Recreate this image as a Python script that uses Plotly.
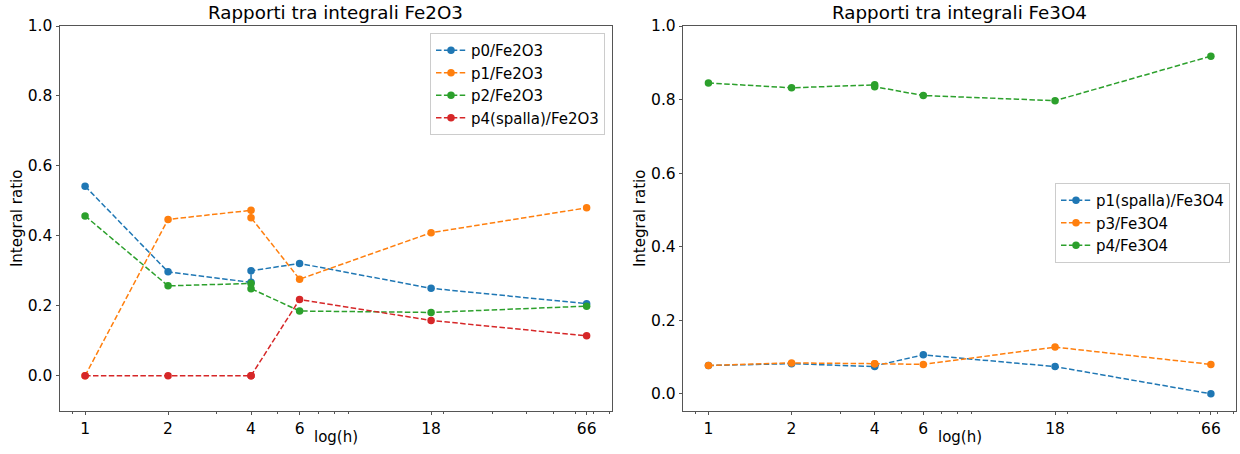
import plotly.graph_objects as go

hours = [1, 2, 4, 4, 6, 18, 66]
tick_vals = [1, 2, 4, 6, 18, 66]
tick_text = ["1", "2", "4", "6", "18", "66"]
minor_vals = [0.9, 3, 5, 7, 8, 9, 20, 30, 40, 50, 60, 70, 80]

# Fe2O3 panel
p0_fe2o3 = [0.542, 0.297, 0.267, 0.300, 0.321, 0.250, 0.206]
p1_fe2o3 = [0.000, 0.447, 0.473, 0.452, 0.276, 0.409, 0.480]
p2_fe2o3 = [0.457, 0.257, 0.264, 0.249, 0.185, 0.181, 0.199]
p4_fe2o3 = [0.000, 0.000, 0.000, 0.000, 0.218, 0.158, 0.114]

# Fe3O4 panel
p1_fe3o4 = [0.077, 0.082, 0.074, 0.076, 0.106, 0.074, 0.000]
p3_fe3o4 = [0.077, 0.084, 0.082, 0.082, 0.080, 0.127, 0.080]
p4_fe3o4 = [0.845, 0.832, 0.840, 0.835, 0.811, 0.797, 0.918]

colors = ["#1f77b4", "#ff7f0e", "#2ca02c", "#d62728"]
FONT = "DejaVu Sans"

fig = go.Figure()

left = [("p0/Fe2O3", p0_fe2o3), ("p1/Fe2O3", p1_fe2o3),
        ("p2/Fe2O3", p2_fe2o3), ("p4(spalla)/Fe2O3", p4_fe2o3)]
right = [("p1(spalla)/Fe3O4", p1_fe3o4), ("p3/Fe3O4", p3_fe3o4),
         ("p4/Fe3O4", p4_fe3o4)]

for i, (name, vals) in enumerate(left):
    fig.add_trace(go.Scatter(
        x=hours, y=vals, name=name, mode="lines+markers",
        line=dict(color=colors[i], width=1.5, dash="5.5px,2.4px"),
        marker=dict(color=colors[i], size=7.5),
        xaxis="x", yaxis="y", legend="legend"))

for i, (name, vals) in enumerate(right):
    fig.add_trace(go.Scatter(
        x=hours, y=vals, name=name, mode="lines+markers",
        line=dict(color=colors[i], width=1.5, dash="5.5px,2.4px"),
        marker=dict(color=colors[i], size=7.5),
        xaxis="x2", yaxis="y2", legend="legend2"))

W, H = 1240, 454
axis_color = "#555555"
XL = (60, 611.7)
XR = (683.3, 1236)

def xaxis(domain, anchor):
    return dict(
        domain=domain, anchor=anchor, type="log", automargin=False,
        range=[-0.091, 1.9105],
        tickmode="array", tickvals=tick_vals, ticktext=tick_text,
        ticks="outside", ticklen=3.5, tickwidth=1, tickcolor=axis_color,
        showline=True, linecolor=axis_color, linewidth=1, mirror=True,
        showgrid=False, zeroline=False,
        tickfont=dict(family=FONT, size=15.5, color="black"),
        minor=dict(tickmode="array", tickvals=minor_vals, ticks="outside",
                   ticklen=2, tickwidth=1, tickcolor=axis_color, showgrid=False),
    )

def yaxis(domain, anchor, rng):
    return dict(
        domain=domain, anchor=anchor, range=rng, automargin=False,
        tickmode="array", tickvals=[0, 0.2, 0.4, 0.6, 0.8, 1.0],
        tickformat=".1f",
        ticks="outside", ticklen=3.5, tickwidth=1, tickcolor=axis_color,
        showline=True, linecolor=axis_color, linewidth=1, mirror=True,
        showgrid=False, zeroline=False,
        tickfont=dict(family=FONT, size=15.5, color="black"),
        title=dict(text="Integral ratio", font=dict(family=FONT, size=15, color="black"), standoff=1),
    )

ydom = [1 - 410.7 / H, 1 - 26 / H]

def label(text, x_px, y_px, size):
    return dict(text=text, x=x_px / W, y=1 - y_px / H,
                xref="paper", yref="paper", xanchor="center", yanchor="middle",
                showarrow=False, font=dict(family=FONT, size=size, color="black"))

fig.update_layout(
    width=W, height=H,
    margin=dict(l=0, r=0, t=0, b=0, autoexpand=False),
    paper_bgcolor="white", plot_bgcolor="white",
    font=dict(family=FONT, size=15, color="black"),
    xaxis=xaxis([XL[0] / W, XL[1] / W], "y"),
    yaxis=yaxis(ydom, "x", [-0.1, 1.0]),
    xaxis2=xaxis([XR[0] / W, XR[1] / W], "y2"),
    yaxis2=yaxis(ydom, "x2", [-0.0459, 1.0]),
    legend=dict(x=605 / W, y=1 - 33 / H, xanchor="right", yanchor="top",
                bgcolor="white", bordercolor="#cccccc", borderwidth=1,
                font=dict(family=FONT, size=15, color="black"),
                tracegroupgap=0, itemwidth=30),
    legend2=dict(x=1230 / W, y=1 - 183 / H, xanchor="right", yanchor="top",
                 bgcolor="white", bordercolor="#cccccc", borderwidth=1,
                 font=dict(family=FONT, size=15, color="black"),
                 tracegroupgap=0, itemwidth=30),
    annotations=[
        label("Rapporti tra integrali Fe2O3", sum(XL) / 2, 12.5, 18.3),
        label("Rapporti tra integrali Fe3O4", sum(XR) / 2, 12.5, 18.3),
        label("log(h)", sum(XL) / 2, 437, 15),
        label("log(h)", sum(XR) / 2, 437, 15),
    ],
)

fig.write_html("out.html")
